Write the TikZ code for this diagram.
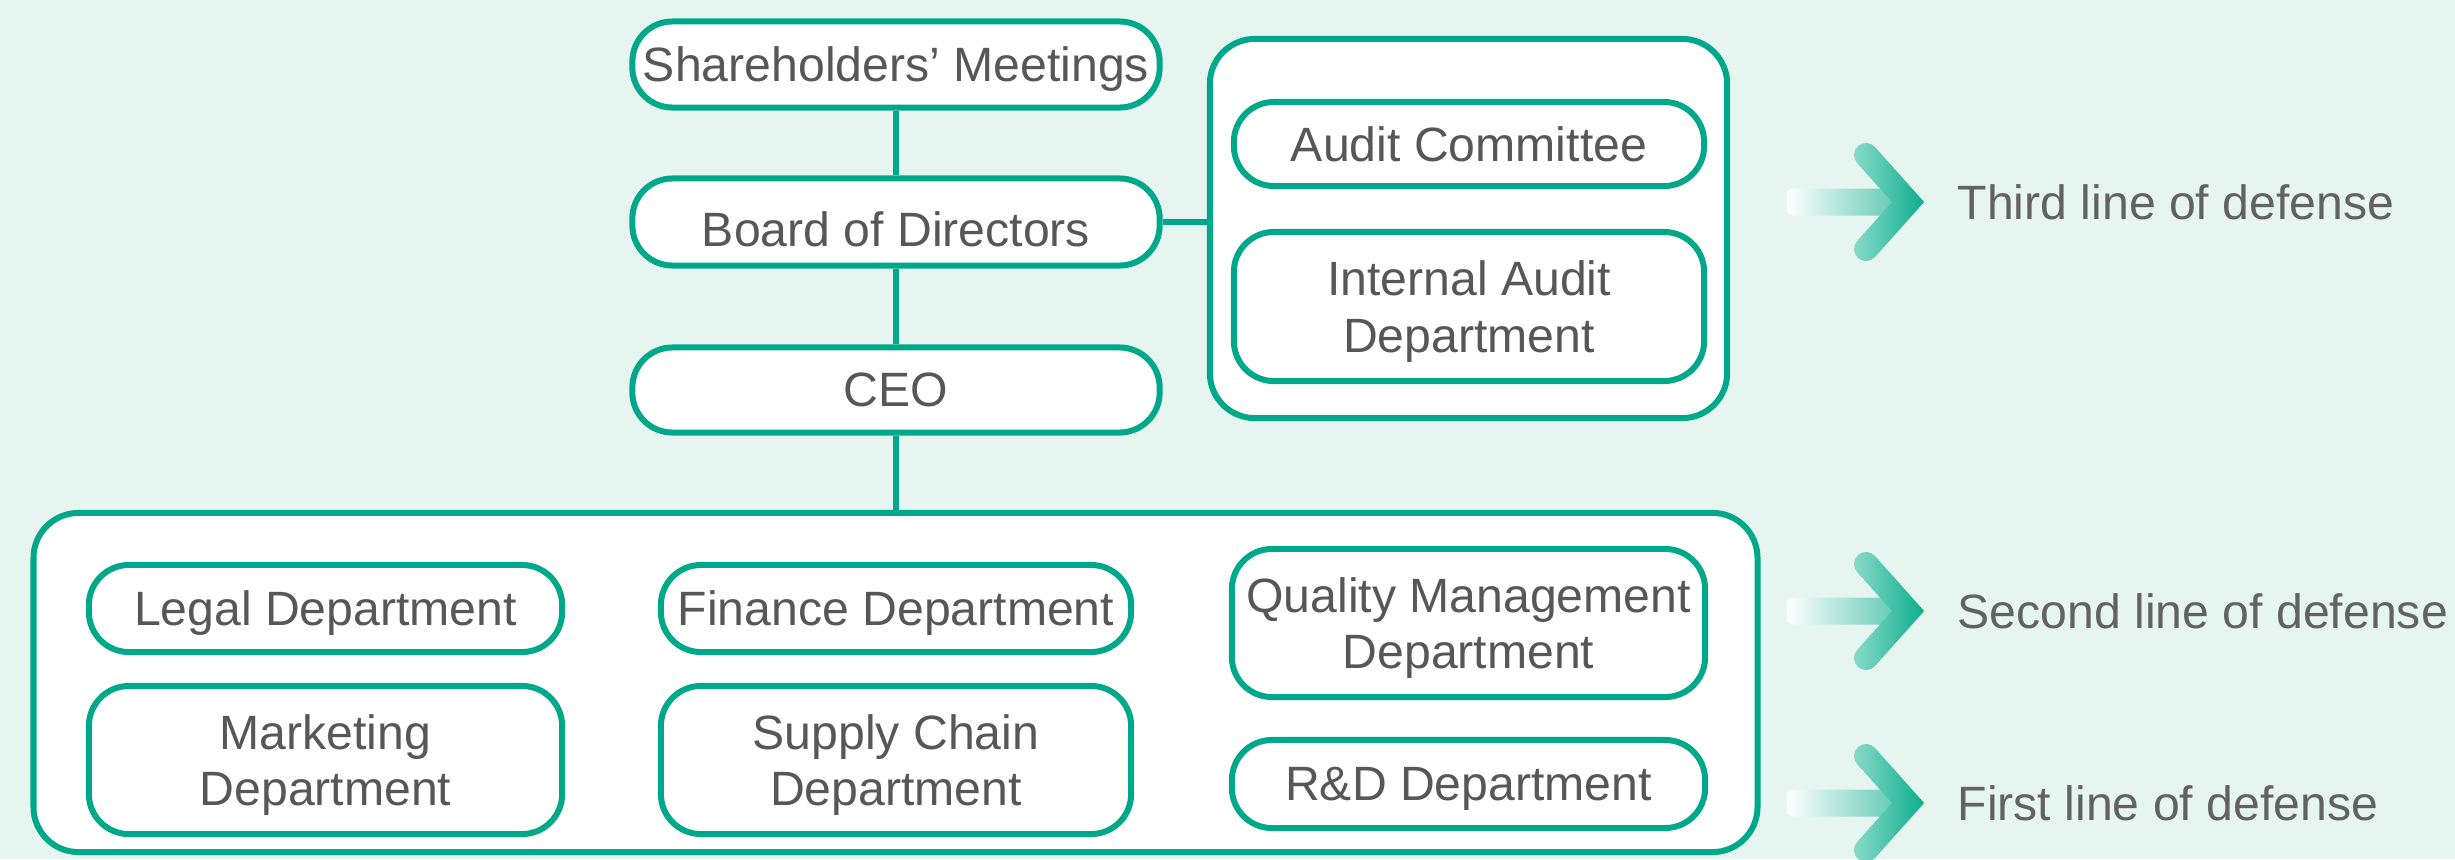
\documentclass[tikz,border=0pt]{standalone}
\usepackage{fontspec}
\setmainfont{Liberation Sans}
\definecolor{bg}{HTML}{E7F5F1}
\definecolor{tl}{HTML}{00A88A}
\definecolor{txt}{HTML}{575757}
\definecolor{txttwo}{HTML}{626262}
\definecolor{shaftR}{HTML}{5CC8B0}
\definecolor{chevL}{HTML}{8ADBC8}
\definecolor{chevR}{HTML}{0DAD8E}
\tikzset{
  box/.style={draw=tl, line width=0.06cm, fill=white, rounded corners=0.4cm, inner sep=0pt, align=center, text depth=0pt, text=txt, font=\fontsize{13.7pt}{16pt}\selectfont},
  grp/.style={draw=tl, line width=0.06cm, fill=white, rounded corners=0.45cm, inner sep=0pt},
  link/.style={draw=tl, line width=0.06cm},
  lbl/.style={anchor=west, inner sep=0pt, text=txttwo, font=\fontsize{13.7pt}{16pt}\selectfont},
}
\newcommand{\defarrow}[1]{%
  \shade[left color=white, right color=shaftR, rounded corners=0.06cm] (1787,#1-13.5) rectangle (1900,#1+13.5);
  \shade[left color=chevL, right color=chevR] (1857.05,#1-39) arc[start angle=138.2, end angle=318.2, radius=0.12cm] -- (1924.1,#1) -- (1874.95,#1+55) arc[start angle=41.8, end angle=221.8, radius=0.12cm] -- (1892,#1) -- cycle;
}
\begin{document}
\begin{tikzpicture}[x=0.01cm,y=0.01cm]
\fill[bg] (0,0) rectangle (2455,859);
\useasboundingbox (0,0) rectangle (2455,859);

% groups
\node[grp, minimum width=5.17cm, minimum height=3.79cm] (auditgrp) at (1468.5,630.5) {};
\node[grp, minimum width=17.23cm, minimum height=3.39cm] (big) at (895.5,176.5) {};

% top chain
\node[box, minimum width=5.27cm, minimum height=0.86cm] (sh) at (896,794.5) {Shareholders’ Meetings};
\node[box, minimum width=5.27cm, minimum height=0.87cm, text height=14pt] (bod) at (896,637) {Board of Directors};
\node[box, minimum width=5.27cm, minimum height=0.85cm] (ceo) at (896,469) {CEO};

% audit
\node[box, minimum width=4.70cm, minimum height=0.84cm] (ac) at (1469,715) {Audit Committee};
\node[box, minimum width=4.70cm, minimum height=1.49cm] (iad) at (1469,552.5) {Internal Audit\\Department};

% departments
\node[box, minimum width=4.73cm, minimum height=0.87cm] (legal) at (325.5,250.5) {Legal Department};
\node[box, minimum width=4.73cm, minimum height=1.48cm] (mkt) at (325.5,99) {Marketing\\Department};
\node[box, minimum width=4.70cm, minimum height=0.87cm] (fin) at (896,250.5) {Finance Department};
\node[box, minimum width=4.70cm, minimum height=1.48cm] (sc) at (896,99) {Supply Chain\\Department};
\node[box, minimum width=4.73cm, minimum height=1.48cm] (qm) at (1468.5,236) {Quality Management\\Department};
\node[box, minimum width=4.73cm, minimum height=0.88cm] (rd) at (1468.5,75) {R\&D Department};

% connectors
\draw[link] (sh.south) -- (bod.north);
\draw[link] (bod.south) -- (ceo.north);
\draw[link] (ceo.south) -- (ceo.south |- big.north);
\draw[link] (bod.east) -- (bod.east -| auditgrp.west);

% arrows
\defarrow{657}
\defarrow{248}
\defarrow{56}

\node[lbl] (third) at (1957,657) {Third line of defense};
\node[lbl] (second) at (1957,248) {Second line of defense};
\node[lbl] (first) at (1957,56) {First line of defense};
\end{tikzpicture}
\end{document}
